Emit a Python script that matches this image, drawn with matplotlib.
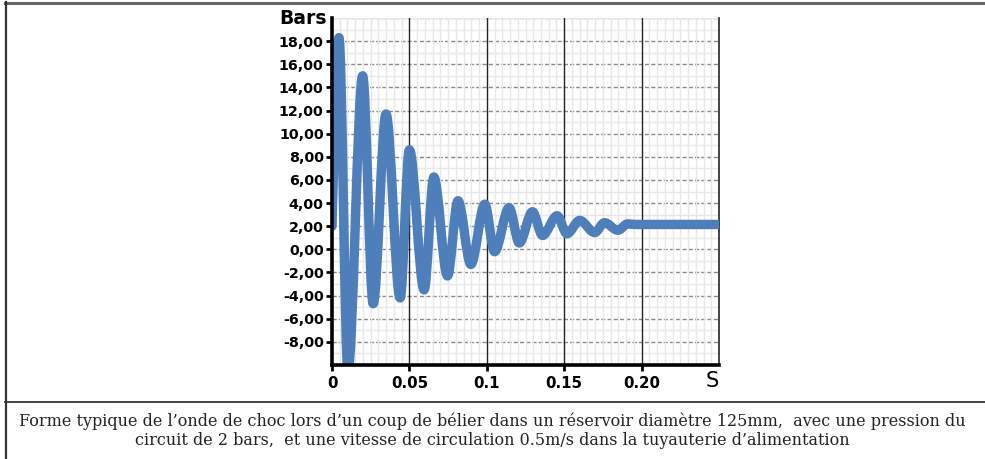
import matplotlib
matplotlib.use("Agg")
import matplotlib.pyplot as plt
from matplotlib.path import Path
from matplotlib.patches import PathPatch
from matplotlib.lines import Line2D
import numpy as np

# ---- data (time in s, pressure in bars) ----
time_s = [0.0, 0.0045, 0.0103, 0.0198, 0.0266, 0.0349, 0.0440, 0.0500,
          0.0595, 0.0658, 0.0746, 0.0814, 0.0897, 0.0987, 0.1050, 0.1144,
          0.1210, 0.1295, 0.1360, 0.1454, 0.1518, 0.1600, 0.1697, 0.1760,
          0.1847, 0.1910, 0.1960, 0.2500]
pressure_bar = [2.0, 18.3, -10.5, 15.0, -4.7, 11.7, -4.2, 8.6,
                -3.5, 6.25, -2.3, 4.2, -1.3, 3.9, -0.2, 3.6,
                0.55, 3.25, 1.2, 2.9, 1.35, 2.5, 1.45, 2.3,
                1.65, 2.2, 2.15, 2.15]

x_ticks = [0.0, 0.05, 0.1, 0.15, 0.2]
x_tick_labels = ["0", "0.05", "0.1", "0.15", "0.20"]
y_ticks = list(range(-8, 19, 2))
y_tick_labels = [f"{v:.2f}".replace(".", ",") for v in y_ticks]

caption = ("Forme typique de l\u2019onde de choc lors d\u2019un coup de b\u00e9lier dans un r\u00e9servoir diam\u00e8tre 125mm,  avec une pression du\n"
           "circuit de 2 bars,  et une vitesse de circulation 0.5m/s dans la tuyauterie d\u2019alimentation")

LINE_COLOR = "#4f7fba"
SANS = ["DejaVu Sans"]

fig = plt.figure(figsize=(9.85, 4.59), dpi=100)
ax = fig.add_axes([332/985, 1 - 365/459, 387/985, 347/459])
ax.set_xlim(0, 0.25)
ax.set_ylim(-10, 20)

# grid
ax.set_axisbelow(True)
ax.set_xticks(np.arange(0, 0.2501, 0.005), minor=True)
ax.set_yticks(np.arange(-10, 20.01, 1), minor=True)
ax.grid(which="minor", color="#e8e8e8", lw=1.0)
for yv in list(range(-8, 21, 2)):
    ax.axhline(yv, color="#8a8a8a", lw=1.0, ls=(0, (3, 1.5)), zorder=0.5)
for xv in [0.05, 0.1, 0.15, 0.2]:
    ax.axvline(xv, color="#222222", lw=1.0, zorder=0.6)

# smoothed curve (Bezier through read points, flat tangent at extrema)
verts = [(time_s[0], pressure_bar[0])]
codes = [Path.MOVETO]
for i in range(len(time_s) - 1):
    x0, y0 = time_s[i], pressure_bar[i]
    x1, y1 = time_s[i + 1], pressure_bar[i + 1]
    dx = x1 - x0
    if i == 0:
        c1 = (x0 + dx / 3, y0 + (y1 - y0) * 0.45)
    else:
        c1 = (x0 + dx / 3, y0)
    c2 = (x1 - dx / 3, y1)
    verts += [c1, c2, (x1, y1)]
    codes += [Path.CURVE4] * 3
patch = PathPatch(Path(verts, codes), facecolor="none", edgecolor=LINE_COLOR,
                  lw=6.8, capstyle="round", joinstyle="round", zorder=3)
ax.add_patch(patch)

# spines
ax.spines["top"].set_visible(False)
ax.spines["right"].set_color("#222222")
ax.spines["right"].set_linewidth(1.2)
ax.spines["left"].set_linewidth(2.6)
ax.spines["bottom"].set_linewidth(2.6)
ax.spines["left"].set_zorder(5)
ax.spines["bottom"].set_zorder(5)

tick_font = dict(family=SANS, weight="bold", size=10.3)
ax.set_xticks(x_ticks)
ax.set_xticklabels(x_tick_labels, fontdict=dict(family=SANS, weight="bold", size=10.8))
ax.set_yticks(y_ticks)
ax.set_yticklabels(y_tick_labels, fontdict=tick_font)
ax.tick_params(axis="both", which="major", length=4, width=2, color="black", pad=2)
ax.tick_params(axis="x", which="major", pad=4)
ax.tick_params(which="minor", length=0)

ax.text(0.2455, -0.046, "S", transform=ax.get_xaxis_transform(), ha="center", va="center",
        fontsize=15, family=SANS)
fig.text(327/985, 1 - 19/459, "Bars", ha="right", va="center",
         fontsize=13.5, weight="bold", family=SANS)

# caption
fig.text(492/985, 1 - 430.5/459, caption, ha="center", va="center", fontsize=11.5,
         family=["DejaVu Serif"], color="#222222", linespacing=1.17)

# frame lines
fig.add_artist(Line2D([5/985, 1], [1 - 3/459, 1 - 3/459], transform=fig.transFigure,
                      color="#666666", lw=2.2))
fig.add_artist(Line2D([6/985, 6/985], [0, 1 - 2/459], transform=fig.transFigure,
                      color="#333333", lw=1.6))
fig.add_artist(Line2D([5/985, 1], [1 - 402/459, 1 - 402/459], transform=fig.transFigure,
                      color="#333333", lw=1.3))

fig.savefig("out.png", dpi=100)
